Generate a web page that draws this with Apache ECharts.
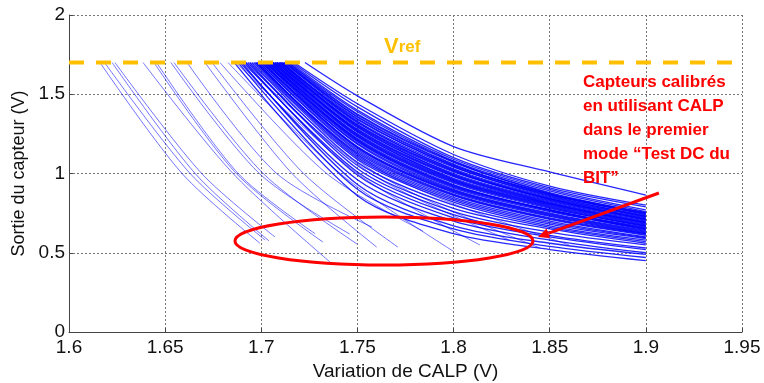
<!DOCTYPE html>
<html><head><meta charset="utf-8">
<script src="https://cdn.jsdelivr.net/npm/echarts@6/dist/echarts.min.js"></script>
<style>html,body{margin:0;padding:0;background:#fff}#c{width:764px;height:383px}</style>
</head><body><div id="c"></div>
<script>
// ---- data ----
const VREF = 1.7;
const xRange = [1.6, 1.95];
const yRange = [0, 2];
// left / middle curves that stop before 1.9: [xStart, xMid, yMid, xEnd, yEnd]
const leftCurves = [
  [1.6161, 1.6588, 1.00, 1.6993, 0.560],
  [1.6185, 1.6630, 1.00, 1.7020, 0.580],
  [1.6224, 1.6656, 1.00, 1.7040, 0.575],
  [1.6239, 1.6690, 1.00, 1.7071, 0.600],
  [1.6385, 1.6853, 1.00, 1.7357, 0.442],
  [1.6442, 1.6870, 1.00, 1.7320, 0.568],
  [1.6455, 1.6880, 1.00, 1.7280, 0.620],
  [1.6530, 1.6990, 1.00, 1.7460, 0.618],
  [1.6546, 1.7010, 1.00, 1.7498, 0.555],
  [1.6614, 1.7080, 1.00, 1.7576, 0.662],
  [1.6707, 1.7160, 1.00, 1.7600, 0.536],
  [1.6744, 1.7220, 1.00, 1.7710, 0.536],
  [1.6785, 1.7340, 1.00, 1.7840, 0.637],
  [1.6827, 1.7410, 1.00, 1.7997, 0.511],
  [1.6868, 1.7500, 1.00, 1.8137, 0.549],
  [1.6900, 1.7570, 1.00, 1.8290, 0.580],
  [1.6920, 1.7600, 1.00, 1.8450, 0.530],
  [1.6940, 1.7650, 1.00, 1.8600, 0.550]
];
// bundle of curves running to 1.9: start x, then y at 1.75, 1.8, 1.85, 1.9
const bundleX = [1.75, 1.8, 1.85, 1.9];
const bundleStart = [1.686,1.688,1.690,1.689,1.692,1.691,1.694,1.693,1.695,1.696,1.697,1.698,1.697,1.699,1.700,1.701,1.700,1.702,1.703,1.702,1.704,1.705,1.704,1.706,1.707,1.706,1.708,1.709,1.708,1.710,1.711,1.710,1.712,1.713,1.714,1.715,1.716,1.717,1.7227,
  1.698,1.699,1.701,1.702,1.703,1.704,1.705,1.706,1.707,1.708,1.709,1.710,1.711,1.712,1.713,1.714];
const bundleY175 = [0.86,0.90,0.93,0.96,0.99,1.01,1.03,1.05,1.07,1.09,1.10,1.12,1.13,1.15,1.16,1.17,1.19,1.20,1.21,1.22,1.23,1.24,1.25,1.26,1.27,1.28,1.29,1.30,1.31,1.32,1.33,1.34,1.36,1.37,1.39,1.40,1.42,1.44,1.49,
  1.11,1.14,1.165,1.185,1.205,1.215,1.235,1.245,1.265,1.275,1.295,1.305,1.325,1.345,1.355,1.375];
const bundleY180 = [0.62,0.65,0.67,0.70,0.72,0.74,0.76,0.78,0.80,0.82,0.83,0.85,0.86,0.87,0.88,0.89,0.90,0.91,0.92,0.93,0.94,0.95,0.96,0.97,0.98,0.99,1.00,1.01,1.02,1.03,1.04,1.05,1.06,1.07,1.08,1.09,1.10,1.12,1.17,
  0.84,0.865,0.885,0.895,0.915,0.925,0.945,0.955,0.965,0.985,0.995,1.015,1.025,1.045,1.055,1.075];
const bundleY185 = [0.52,0.54,0.56,0.58,0.60,0.61,0.63,0.65,0.66,0.67,0.68,0.70,0.71,0.72,0.73,0.74,0.75,0.76,0.77,0.77,0.78,0.79,0.80,0.81,0.81,0.82,0.83,0.84,0.84,0.85,0.86,0.87,0.87,0.88,0.89,0.90,0.91,0.92,1.01,
  0.69,0.715,0.735,0.745,0.765,0.77,0.785,0.795,0.805,0.815,0.825,0.835,0.845,0.855,0.865,0.875];
const bundleY190 = [0.45,0.47,0.49,0.50,0.52,0.53,0.55,0.56,0.57,0.58,0.59,0.60,0.61,0.62,0.62,0.63,0.64,0.65,0.65,0.66,0.67,0.67,0.68,0.69,0.69,0.70,0.71,0.71,0.72,0.73,0.73,0.74,0.75,0.75,0.76,0.77,0.79,0.80,0.864,
  0.595,0.615,0.625,0.635,0.645,0.655,0.665,0.675,0.685,0.695,0.705,0.715,0.725,0.735,0.745,0.755];
// annotations (data coordinates)
const vrefLabelPos = [1.7638, 1.729];
const noteText = 'Capteurs calibrés\nen utilisant CALP\ndans le premier\nmode \u201cTest DC du\nBIT\u201d';
const notePos = [1.8673, 1.653];
const ellipseCenter = [1.7638, 0.574];
const ellipseRadius = [0.0775, 0.151];
const arrowFrom = [1.9068, 0.877];
const arrowTo = [1.8439, 0.599];

const chart = echarts.init(document.getElementById('c'), null, {renderer: 'canvas'});
function curve(pts, col, w) {
  return {type: 'line', data: pts, showSymbol: false, smooth: 0.3,
    lineStyle: {color: col, width: w}, silent: true, z: 2};
}
const series = [];
leftCurves.forEach(c => series.push(curve([[c[0], VREF], [c[1], c[2]], [c[3], c[4]]], 'rgba(0,0,255,0.55)', 1)));
bundleStart.forEach((x0, i) => series.push(curve([[x0, VREF],
  [bundleX[0], bundleY175[i]], [bundleX[1], bundleY180[i]], [bundleX[2], bundleY185[i]], [bundleX[3], bundleY190[i]]], 'rgba(0,0,255,0.85)', 1.3)));
series.push({type: 'line', data: [[xRange[0], VREF], [xRange[1], VREF]], showSymbol: false,
  lineStyle: {color: '#FFC000', width: 4, type: [15, 12]}, silent: true, z: 5});

const fmt = v => String(+v.toFixed(2));
const font = 'Liberation Sans, Arial, sans-serif';
const gridLine = {show: true, lineStyle: {color: '#777', type: [2, 2], width: 1}};
chart.setOption({
  animation: false,
  grid: {left: 69, right: 22, top: 15, bottom: 51, containLabel: false, outerBoundsMode: 'none'},
  xAxis: {type: 'value', min: xRange[0], max: xRange[1], interval: 0.05,
    name: 'Variation de CALP (V)', nameLocation: 'middle', nameGap: 27,
    nameTextStyle: {fontSize: 19, color: '#111', fontFamily: font},
    axisLine: {show: true, onZero: false, lineStyle: {color: '#444', width: 1}},
    axisTick: {show: true, inside: true, length: 4, lineStyle: {color: '#444'}},
    axisLabel: {formatter: fmt, fontSize: 19, color: '#111', fontFamily: font, margin: 6},
    splitLine: gridLine},
  yAxis: {type: 'value', min: yRange[0], max: yRange[1], interval: 0.5,
    name: 'Sortie du capteur (V)', nameLocation: 'middle', nameGap: 33,
    nameTextStyle: {fontSize: 18, color: '#111', fontFamily: font},
    axisLine: {show: true, onZero: false, lineStyle: {color: '#444', width: 1}},
    axisTick: {show: true, inside: true, length: 4, lineStyle: {color: '#444'}},
    axisLabel: {formatter: fmt, fontSize: 19, color: '#111', fontFamily: font, margin: 4},
    splitLine: gridLine},
  series: series
});

const p = v => chart.convertToPixel({gridIndex: 0}, v);
const ec = p(ellipseCenter);
const erx = p([ellipseCenter[0] + ellipseRadius[0], ellipseCenter[1]])[0] - ec[0];
const ery = ec[1] - p([ellipseCenter[0], ellipseCenter[1] + ellipseRadius[1]])[1];
const S = p(arrowFrom), T = p(arrowTo);
const dx = T[0] - S[0], dy = T[1] - S[1], len = Math.hypot(dx, dy);
const ux = dx / len, uy = dy / len, L = 11, W = 5;
const B = [T[0] - ux * L, T[1] - uy * L];
const vl = p(vrefLabelPos), np = p(notePos);
chart.setOption({graphic: [
  {type: 'ellipse', shape: {cx: ec[0], cy: ec[1], rx: erx, ry: ery}, style: {fill: null, stroke: '#FF0000', lineWidth: 3}, z: 10},
  {type: 'line', shape: {x1: S[0], y1: S[1], x2: B[0], y2: B[1]}, style: {stroke: '#FF0000', lineWidth: 3}, z: 10},
  {type: 'polygon', shape: {points: [T, [B[0] - uy * W, B[1] + ux * W], [B[0] + uy * W, B[1] - ux * W]]}, style: {fill: '#FF0000'}, z: 10},
  {type: 'text', x: vl[0], y: vl[1], z: 10, style: {text: '{v|V}{r|ref}', verticalAlign: 'bottom',
    rich: {v: {fontSize: 22, fontWeight: 'bold', fill: '#FFC000', fontFamily: font},
           r: {fontSize: 17, fontWeight: 'bold', fill: '#FFC000', fontFamily: font}}}},
  {type: 'text', x: np[0], y: np[1], z: 10, style: {text: noteText, fontSize: 17, fontWeight: 'bold', fill: '#FF0000',
    fontFamily: font, lineHeight: 24}}
]});
</script></body></html>
